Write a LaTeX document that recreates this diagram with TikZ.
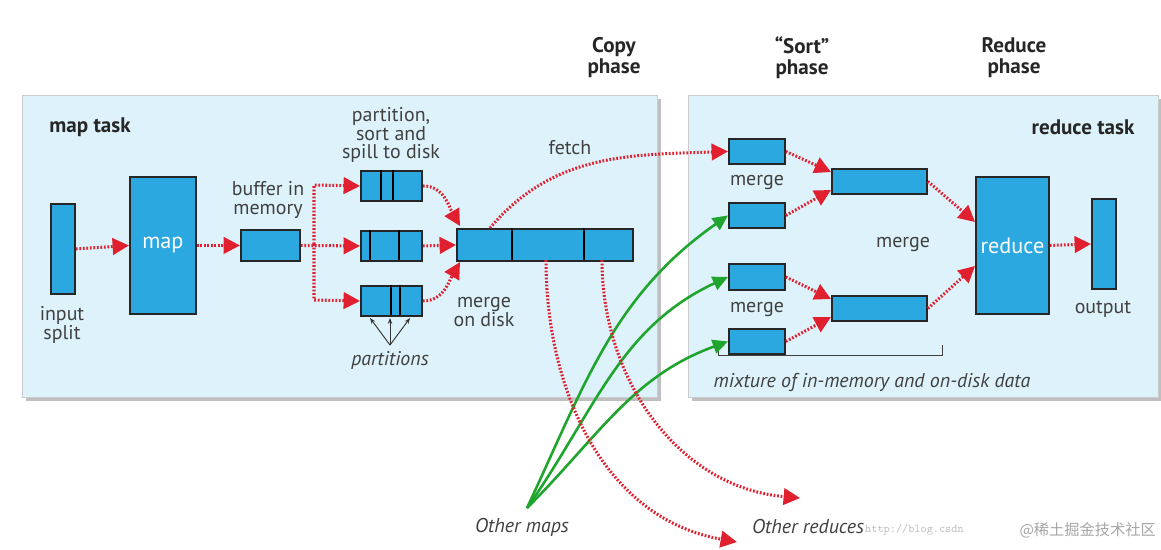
\documentclass[tikz,border=0pt]{standalone}
\usepackage{fontspec}
\setmainfont{PT Sans}
\newfontfamily\cjk{Noto Sans CJK SC}
\usetikzlibrary{arrows.meta}
\definecolor{panel}{HTML}{DDF2FA}
\definecolor{boxb}{HTML}{2BA8E0}
\definecolor{rd}{HTML}{E0202E}
\definecolor{gr}{HTML}{1FA52E}
\begin{document}
\begin{tikzpicture}[x=0.03cm,y=-0.03cm,
  panelst/.style={fill=panel,draw=gray!40},
  box/.style={fill=boxb,draw=black!85,line width=1.6pt},
  lbl/.style={font=\fontsize{17}{16}\selectfont,text=black!75,align=center,inner sep=0},
  it/.style={lbl,font=\fontsize{17}{16}\selectfont\itshape},
  bold/.style={lbl,font=\fontsize{18}{18}\selectfont\bfseries,text=black!85},
  rarr/.style={draw=rd,line width=2.6pt,dash pattern=on 1.5pt off 1.5pt,-{Triangle[length=14pt,width=14pt,fill=rd]}},
  garr/.style={draw=gr,line width=2.2pt,-{Triangle[length=13pt,width=12pt,fill=gr]}}]
\useasboundingbox (0,0) rectangle (1161,549);
\fill[white] (0,0) rectangle (1161,549);
% panels
\fill[gray!50] (26,99) rectangle (661,401);
\fill[gray!50] (692,99) rectangle (1162,401);
\node[panelst,minimum width=635*0.03cm,minimum height=302*0.03cm,anchor=north west,inner sep=0] (mp) at (22,95) {};
\node[panelst,minimum width=470*0.03cm,minimum height=302*0.03cm,anchor=north west,inner sep=0] (rp) at (688,95) {};
\node[bold] (cp) at (614,58) {Copy\\phase};
\node[bold] (sp) at (802,58) {“Sort”\\phase};
\node[bold] (rph) at (1014,58) {Reduce\\phase};
\node[bold] (mt) at (90,127) {map task};
\node[bold] (rt) at (1083,127) {reduce task};
% map side
\newcommand{\bx}[5]{\node[box,anchor=north west,minimum width=#4*0.03cm,minimum height=#5*0.03cm,inner sep=0] (#1) at (#2,#3) {};}
\bx{inp}{50}{203}{24}{90}
\node[lbl] (inl) at (62,325) {input\\split};
\node[box,anchor=north west,minimum width=66*0.03cm,minimum height=137*0.03cm,inner sep=0,text=white,font=\fontsize{19}{19}\selectfont] (map) at (129,176) {map};
\bx{buf}{240}{229}{59}{31}
\node[lbl] (bufl) at (268,200) {buffer in\\memory};
\bx{s1}{360}{170}{61}{30}
\bx{s2}{360}{230}{61}{30}
\bx{s3}{360}{285}{61}{30}
\draw[line width=1.6pt] (381,170)--(381,200) (393,170)--(393,200)
 (370,230)--(370,260) (399,230)--(399,260) (391,285)--(391,315) (400,285)--(400,315);
\node[lbl] (psl) at (391,135) {partition,\\sort and\\spill to disk};
\bx{mg}{456}{228}{176}{32}
\draw[line width=1.6pt] (512,228)--(512,260) (584,228)--(584,260);
\node[lbl] (mdl) at (484,312) {merge\\on disk};
\node[it] (pl) at (390,360) {partitions};
\coordinate (pa) at (390,345);
\foreach \xx in {370,390,410}\draw[-{Stealth[length=5pt]},line width=0.8pt,black!80] (pa)--(\xx,318);
\node[lbl] (fl) at (570,148) {fetch};
\path[rarr] (inp.east) -- (map.west);
\path[rarr] (map.east) -- (buf.west);
\path[rarr] (buf.east) -- (s2.west);
\path[rarr] (314,244) -- (314,185) -- (s1.west);
\path[rarr] (314,244) -- (314,300) -- (s3.west);
\path[rarr] (s1.east) to[out=0,in=120] (460,226);
\path[rarr] (s2.east) -- (mg.west);
\path[rarr] (s3.east) to[out=0,in=-120] (460,262);
% reduce side
\bx{r1}{728}{138}{56}{25}
\bx{r2}{728}{202}{56}{25}
\bx{r3}{728}{263}{56}{26}
\bx{r4}{728}{328}{56}{25}
\node[lbl] (m1) at (757,183) {merge};
\node[lbl] (m2) at (757,310) {merge};
\bx{q1}{831}{168}{95}{25}
\bx{q2}{831}{295}{95}{25}
\node[lbl] (m3) at (903,245) {merge};
\node[box,anchor=north west,minimum width=73*0.03cm,minimum height=137*0.03cm,inner sep=0,text=white,font=\fontsize{19}{19}\selectfont] (red) at (975,176) {reduce};
\bx{out}{1091}{198}{24}{90}
\node[lbl] (ol) at (1103,309) {output};
\draw[line width=0.8pt,black!75] (718,345)--(718,355)--(942,355)--(942,345);
\node[it] (mix) at (872,382) {mixture of in-memory and on-disk data};
\path[rarr] (490,228) to[out=50,in=182] (r1.west);
\path[rarr] (r1.east) -- (q1.west |- 0,172);
\path[rarr] (r2.east) -- (q1.west |- 0,190);
\path[rarr] (r3.east) -- (q2.west |- 0,299);
\path[rarr] (r4.east) -- (q2.west |- 0,317);
\path[rarr] (q1.east) -- (red.west |- 0,222);
\path[rarr] (q2.east) -- (red.west |- 0,266);
\path[rarr] (red.east) -- (out.west);
% outside
\node[it] (om) at (522,527) {Other maps};
\node[it] (orr) at (808,527) {Other reduces};
\coordinate (g0) at (527,508);
\path[garr] (g0) to[out=65,in=215] (r2.west);
\path[garr] (g0) to[out=55,in=205] (r3.west);
\path[garr] (g0) to[out=45,in=200] (r4.west);
\path[rarr] (546,260) to[out=-90,in=170] (737,542);
\path[rarr] (602,260) to[out=-90,in=175] (800,498);
\node[font=\fontsize{10}{10}\selectfont\ttfamily,text=gray!50,anchor=west,inner sep=0] (wm) at (865,530) {http://blog.csdn};
\node[font=\fontsize{13}{13}\selectfont\cjk,text=gray!70,anchor=east,inner sep=0] (wm2) at (1156,530) {@稀土掘金技术社区};
\end{tikzpicture}
\end{document}
